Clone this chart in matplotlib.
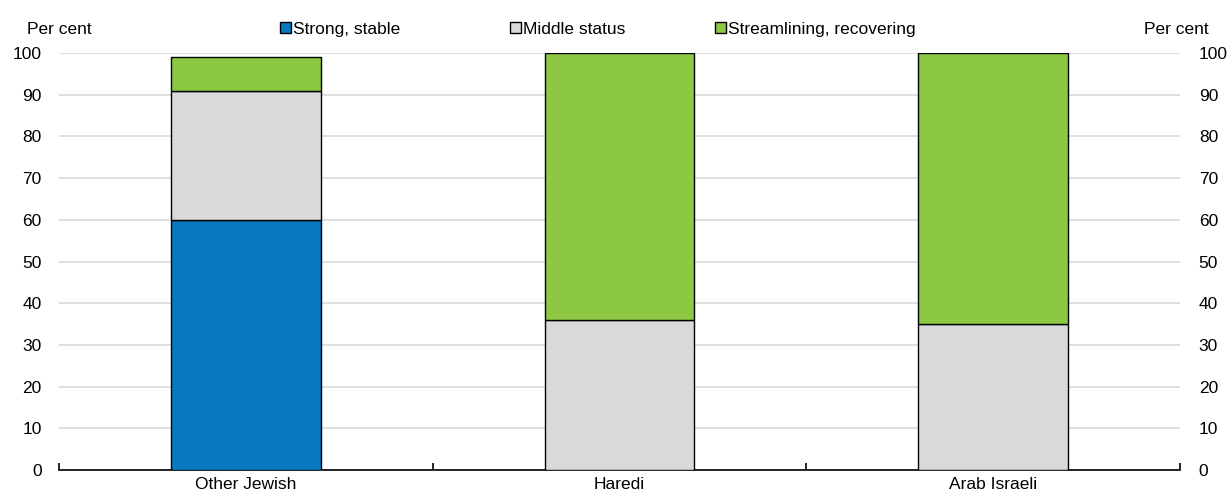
import numpy as np
import matplotlib.pyplot as plt
from matplotlib.patches import Rectangle

plt.rcParams['font.family'] = ['Liberation Sans', 'DejaVu Sans']

categories = ['Other Jewish', 'Haredi', 'Arab Israeli']
strong = [60, 0, 0]
middle = [31, 36, 35]
stream = [8, 64, 65]
series_names = ['Strong, stable', 'Middle status', 'Streamlining, recovering']
colors = ['#0679c1', '#d9d9d9', '#8cc841']
fs = 12.5
W, H = 1229, 497

fig = plt.figure(figsize=(W / 100, H / 100), dpi=100)
ax = fig.add_axes([59 / W, (H - 470) / H, (1180 - 59) / W, (470 - 53) / H])

x = np.arange(len(categories))
bottom = np.zeros(len(categories))
for vals, col in zip([strong, middle, stream], colors):
    vals = np.array(vals, dtype=float)
    mask = vals > 0
    ax.bar(x[mask], vals[mask], width=0.4, bottom=bottom[mask], color=col,
           edgecolor='black', linewidth=1, zorder=3)
    bottom += vals

ax.set_xlim(-0.5, 2.5)
ax.set_ylim(0, 100)
ax.set_yticks(np.arange(0, 101, 10))
ax.grid(axis='y', color='#d9d9d9', linewidth=1.2, zorder=0)
ax.set_xticks(x)
ax.set_xticklabels(categories, fontsize=fs)
ax.set_xticks(np.arange(-0.5, 2.6, 1), minor=True)
ax.tick_params(axis='x', which='major', length=0, pad=5)
ax.tick_params(axis='x', which='minor', direction='in', length=5, width=1.2)
ax.tick_params(axis='y', length=0, labelsize=fs, pad=12.5)
for s in ['top', 'left', 'right']:
    ax.spines[s].set_visible(False)
ax.spines['bottom'].set_linewidth(1.2)

ax2 = ax.twinx()
ax2.set_ylim(0, 100)
ax2.set_yticks(np.arange(0, 101, 10))
ax2.tick_params(axis='y', length=0, labelsize=fs, pad=13.5)
for s in ['top', 'left', 'right', 'bottom']:
    ax2.spines[s].set_visible(False)

base_y = 1 - 34 / H
fig.text(27 / W, base_y, 'Per cent', fontsize=fs, va='baseline', ha='left')
fig.text(1209 / W, base_y, 'Per cent', fontsize=fs, va='baseline', ha='right')

# legend: square + label, placed by hand
leg_x = [280, 510, 715]
for name, col, lx in zip(series_names, colors, leg_x):
    fig.patches.append(Rectangle((lx / W, 1 - 33 / H), 11 / W, 11 / H, transform=fig.transFigure,
                                 facecolor=col, edgecolor='black', linewidth=1))
    fig.text((lx + 13) / W, base_y, name, fontsize=fs, va='baseline', ha='left')

fig.savefig('out.png', dpi=100)
